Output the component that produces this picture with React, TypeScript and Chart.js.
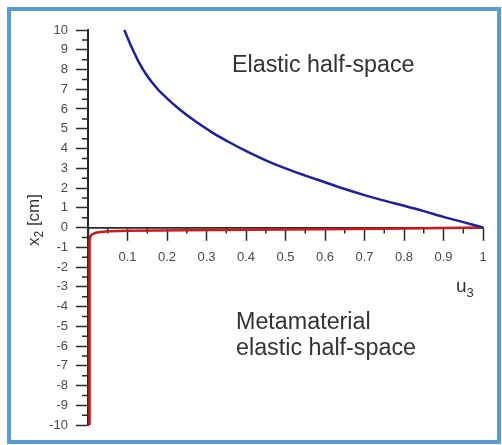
import React, { useEffect, useRef } from "react";
import { Chart, registerables } from "chart.js";

Chart.register(...registerables);

// Elastic half-space (blue curve)
const elasticU = [0.092, 0.11, 0.13, 0.15, 0.175, 0.2, 0.233, 0.27, 0.317, 0.36, 0.402, 0.45, 0.5, 0.55, 0.6, 0.65, 0.7, 0.75, 0.8, 0.85, 0.9, 0.95, 1.0];
const elasticX2 = [10, 9.15, 8.32, 7.67, 7.04, 6.54, 5.96, 5.4, 4.78, 4.29, 3.85, 3.4, 2.99, 2.63, 2.29, 1.95, 1.64, 1.36, 1.1, 0.83, 0.54, 0.27, 0];

// Metamaterial elastic half-space (red curve)
const metaU = [0.004, 0.004, 0.006, 0.01, 0.018, 0.03, 0.056, 0.1, 0.25, 0.5, 0.75, 1.0];
const metaX2 = [-10, -0.7, -0.45, -0.35, -0.28, -0.23, -0.19, -0.17, -0.14, -0.1, -0.06, 0];

const xMin = 0, xMax = 1, xStep = 0.1;
const yMin = -10, yMax = 10, yStep = 1;
const xMinorTicks = [0.05, 0.15, 0.25, 0.35, 0.45, 0.55, 0.65, 0.75, 0.85, 0.95];
const yMinorTicks = [-9.5, -8.5, -7.5, -6.5, -5.5, -4.5, -3.5, -2.5, -1.5, -0.5, 0.5, 1.5, 2.5, 3.5, 4.5, 5.5, 6.5, 7.5, 8.5, 9.5];

const FONT = "'Liberation Sans', Arial, sans-serif";
const AXIS = "#2a2a2a";

const minorTicksPlugin = {
  id: "minorTicks",
  beforeDatasetsDraw(chart: any) {
    const { ctx, scales } = chart;
    const xs = scales.x, ys = scales.y;
    const y0 = ys.getPixelForValue(0);
    const left = chart.chartArea.left;
    ctx.save();
    ctx.strokeStyle = AXIS;
    ctx.lineWidth = 1.5;
    ctx.beginPath();
    for (const v of xMinorTicks) {
      const px = xs.getPixelForValue(v);
      ctx.moveTo(px, y0);
      ctx.lineTo(px, y0 + 6);
    }
    for (const v of yMinorTicks) {
      const py = ys.getPixelForValue(v);
      ctx.moveTo(left, py);
      ctx.lineTo(left - 6, py);
    }
    ctx.stroke();
    ctx.restore();
  },
};

const textPlugin = {
  id: "texts",
  afterDraw(chart: any) {
    const { ctx } = chart;
    ctx.save();
    ctx.fillStyle = "#333";
    ctx.textBaseline = "alphabetic";
    ctx.textAlign = "left";
    ctx.font = `23.3px ${FONT}`;
    ctx.fillText("Elastic half-space", 232, 72);
    ctx.fillText("Metamaterial", 236, 329);
    ctx.fillText("elastic half-space", 236, 355);

    // u3
    ctx.font = `19px ${FONT}`;
    ctx.fillText("u", 456, 292);
    const uw = ctx.measureText("u").width;
    ctx.font = `13px ${FONT}`;
    ctx.fillText("3", 456 + uw, 297);

    // y title x2 [cm]
    ctx.translate(39, 220);
    ctx.rotate(-Math.PI / 2);
    ctx.font = `17px ${FONT}`;
    const w1 = ctx.measureText("x").width;
    ctx.font = `12px ${FONT}`;
    const w2 = ctx.measureText("2").width;
    ctx.font = `17px ${FONT}`;
    const w3 = ctx.measureText(" [cm]").width;
    let x = -(w1 + w2 + w3) / 2;
    ctx.fillText("x", x, 0);
    x += w1;
    ctx.font = `12px ${FONT}`;
    ctx.fillText("2", x, 4);
    x += w2;
    ctx.font = `17px ${FONT}`;
    ctx.fillText(" [cm]", x, 0);
    ctx.restore();
  },
};

export default function App() {
  const ref = useRef<HTMLCanvasElement>(null);

  useEffect(() => {
    if (!ref.current) return;
    const chart = new Chart(ref.current, {
      type: "line",
      data: {
        datasets: [
          {
            label: "Elastic half-space",
            data: elasticU.map((u, i) => ({ x: u, y: elasticX2[i] })),
            borderColor: "#1f1f9c",
            borderWidth: 2.5,
            pointRadius: 0,
            cubicInterpolationMode: "monotone",
            fill: false,
            clip: false as any,
          },
          {
            label: "Metamaterial elastic half-space",
            data: metaU.map((u, i) => ({ x: u, y: metaX2[i] })),
            borderColor: "#cc1a1a",
            borderWidth: 2.5,
            pointRadius: 0,
            tension: 0,
            fill: false,
            clip: false as any,
          },
        ],
      },
      options: {
        animation: false,
        responsive: false,
        devicePixelRatio: 1,
        layout: { padding: { left: 0, top: 30, right: 19, bottom: 20 } },
        plugins: { legend: { display: false }, tooltip: { enabled: false } },
        scales: {
          x: {
            type: "linear",
            min: xMin,
            max: xMax,
            position: { y: 0 } as any,
            afterFit: (s: any) => { s.height = 0; },
            ticks: {
              stepSize: xStep,
              color: "#4a4a4a",
              font: { family: FONT, size: 13 },
              padding: 10,
              maxRotation: 0,
              autoSkip: false,
              callback: (v: any) => (Math.abs(Number(v)) < 1e-9 ? "" : String(Math.round(Number(v) * 10) / 10)),
            },
            grid: { drawOnChartArea: false, drawTicks: true, tickLength: 12, tickColor: AXIS, tickWidth: 1.5 },
            border: { display: true, color: AXIS, width: 1.8 },
          },
          y: {
            type: "linear",
            min: yMin,
            max: yMax,
            position: "left",
            afterFit: (s: any) => { s.width = 88; },
            ticks: {
              stepSize: yStep,
              color: "#4a4a4a",
              font: { family: FONT, size: 13 },
              padding: 8,
              autoSkip: false,
            },
            grid: { drawOnChartArea: false, drawTicks: true, tickLength: 12, tickColor: AXIS, tickWidth: 1.5 },
            border: { display: true, color: AXIS, width: 2 },
          },
        },
      },
      plugins: [minorTicksPlugin, textPlugin],
    });
    return () => chart.destroy();
  }, []);

  return (
    <div style={{ position: "fixed", left: 0, top: 0, width: 502, height: 445, background: "#fff" }}>
      <div
        style={{
          position: "absolute",
          left: 7,
          top: 7,
          width: 494,
          height: 437,
          boxSizing: "border-box",
          border: "4px solid #5b9bd5",
        }}
      />
      <canvas ref={ref} width={502} height={445} style={{ position: "absolute", left: 0, top: 0, width: 502, height: 445 }} />
    </div>
  );
}
